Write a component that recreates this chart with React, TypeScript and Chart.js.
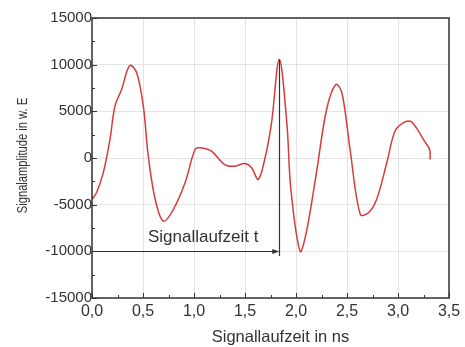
import React, { useEffect, useRef } from "react";
import { Chart, registerables } from "chart.js";

Chart.register(...registerables);

const timeNs = [
  0, 0.045, 0.11, 0.176, 0.225, 0.29, 0.37, 0.438, 0.503, 0.552, 0.62, 0.7, 0.797, 0.912, 1.01, 1.06,
  1.17, 1.3, 1.4, 1.5, 1.565, 1.63, 1.7, 1.76, 1.836, 1.91, 1.95, 2.04, 2.1, 2.2, 2.3, 2.39, 2.45,
  2.53, 2.63, 2.71, 2.79, 2.89, 2.97, 3.05, 3.12, 3.18, 3.26, 3.31, 3.315,
];
const amplitude = [
  -4450, -3700, -1590, 1980, 5550, 7340, 9910, 9130, 5550, 190, -4450, -6770, -5520, -2660, 910, 1090,
  730, -700, -880, -590, -1050, -2300, 190, 3770, 10560, 3770, -3380, -9990, -8020, -1590, 5200, 7880,
  6990, 910, -6060, -5870, -4450, -510, 2870, 3770, 3940, 3230, 1800, 910, -160,
];
const xTickLabels = ["0,0", "0,5", "1,0", "1,5", "2,0", "2,5", "3,0", "3,5"];
const yTickValues = [-15000, -10000, -5000, 0, 5000, 10000, 15000];

const xTitle = "Signallaufzeit in ns";
const yTitle = "Signalamplitude in w. E";

const annotationLevel = -10000;
const annotationEndTime = 1.836;
const annotationPeak = 10560;
const annotationBottom = -10500;
const annotationText = "Signallaufzeit t";
const annotationTextTime = 1.09;
const annotationTextValue = -8550;

const FONT = '"Liberation Sans", Arial, sans-serif';
const DARK = "#333333";

const framePlugin = {
  id: "framePlugin",
  afterDatasetsDraw(chart: any) {
    const { ctx, chartArea, scales } = chart;
    const { left, right, top, bottom } = chartArea;
    const x = scales.x;
    const y = scales.y;
    ctx.save();
    ctx.strokeStyle = DARK;
    ctx.lineWidth = 1;
    for (let i = 0; i <= 14; i++) {
      const v = i * 0.25;
      const px = Math.round(x.getPixelForValue(v)) + 0.5;
      const len = i % 2 === 0 ? 5 : 3;
      ctx.beginPath();
      ctx.moveTo(px, bottom);
      ctx.lineTo(px, bottom - len);
      ctx.stroke();
    }
    for (let i = 0; i <= 12; i++) {
      const v = -15000 + i * 2500;
      const py = Math.round(y.getPixelForValue(v)) + 0.5;
      const len = i % 2 === 0 ? 5 : 3;
      ctx.beginPath();
      ctx.moveTo(left, py);
      ctx.lineTo(left + len, py);
      ctx.stroke();
    }
    // annotation
    const ax0 = x.getPixelForValue(0);
    const ax1 = x.getPixelForValue(annotationEndTime);
    const ay = Math.round(y.getPixelForValue(annotationLevel)) + 0.5;
    ctx.lineWidth = 1.2;
    ctx.beginPath();
    ctx.moveTo(ax0, ay);
    ctx.lineTo(ax1 - 2, ay);
    ctx.stroke();
    ctx.fillStyle = DARK;
    ctx.beginPath();
    ctx.moveTo(ax1, ay);
    ctx.lineTo(ax1 - 7, ay - 2.5);
    ctx.lineTo(ax1 - 7, ay + 2.5);
    ctx.closePath();
    ctx.fill();
    const vx = Math.round(ax1) + 0.5;
    ctx.beginPath();
    ctx.moveTo(vx, y.getPixelForValue(annotationPeak));
    ctx.lineTo(vx, y.getPixelForValue(annotationBottom));
    ctx.stroke();
    ctx.font = `17px ${FONT}`;
    ctx.textAlign = "center";
    ctx.textBaseline = "middle";
    ctx.fillText(annotationText, x.getPixelForValue(annotationTextTime), y.getPixelForValue(annotationTextValue));
    // frame
    ctx.lineWidth = 1.5;
    ctx.strokeRect(left, top, right - left, bottom - top);
    // axis titles
    ctx.font = `16.5px ${FONT}`;
    ctx.textBaseline = "alphabetic";
    ctx.fillText(xTitle, (left + right) / 2 + 10, chart.height - 5.5);
    ctx.save();
    ctx.translate(27, (top + bottom) / 2 - 2.5);
    ctx.rotate(-Math.PI / 2);
    ctx.scale(0.72, 1);
    ctx.font = `15.5px ${FONT}`;
    ctx.fillText(yTitle, 0, 0);
    ctx.restore();
    ctx.restore();
  },
};

export default function App() {
  const ref = useRef<HTMLCanvasElement | null>(null);
  useEffect(() => {
    if (!ref.current) return;
    const chart = new Chart(ref.current, {
      type: "line",
      data: {
        datasets: [
          {
            data: timeNs.map((t, i) => ({ x: t, y: amplitude[i] })),
            borderColor: "#d83b3b",
            borderWidth: 1.5,
            pointRadius: 0,
            tension: 0.35,
            fill: false,
          },
        ],
      },
      options: {
        animation: false,
        responsive: false,
        layout: { padding: { top: 18, right: 16, left: 0, bottom: 0 } },
        plugins: { legend: { display: false }, tooltip: { enabled: false } },
        scales: {
          x: {
            type: "linear",
            min: 0,
            max: 3.5,
            afterFit: (s: any) => {
              s.height = 49;
            },
            ticks: {
              stepSize: 0.5,
              padding: 4,
              color: DARK,
              font: { family: FONT, size: 16 },
              maxRotation: 0,
              callback: (v: any) => xTickLabels[Math.round(Number(v) / 0.5)] ?? "",
            },
            grid: { color: "#e4e4e4", lineWidth: 1, drawTicks: false },
            border: { display: false },
          },
          y: {
            type: "linear",
            min: -15000,
            max: 15000,
            afterFit: (s: any) => {
              s.width = 92;
            },
            afterBuildTicks: (s: any) => {
              s.ticks = yTickValues.map((v) => ({ value: v }));
            },
            ticks: {
              padding: 0,
              color: DARK,
              font: { family: FONT, size: 15 },
              callback: (v: any) => String(v),
            },
            grid: { color: "#e4e4e4", lineWidth: 1, drawTicks: false },
            border: { display: false },
          },
        },
      },
      plugins: [framePlugin],
    });
    return () => chart.destroy();
  }, []);
  return (
    <div style={{ position: "absolute", left: 0, top: 0, width: 465, height: 347, background: "#fff" }}>
      <canvas ref={ref} width={465} height={347} style={{ display: "block" }} />
    </div>
  );
}
